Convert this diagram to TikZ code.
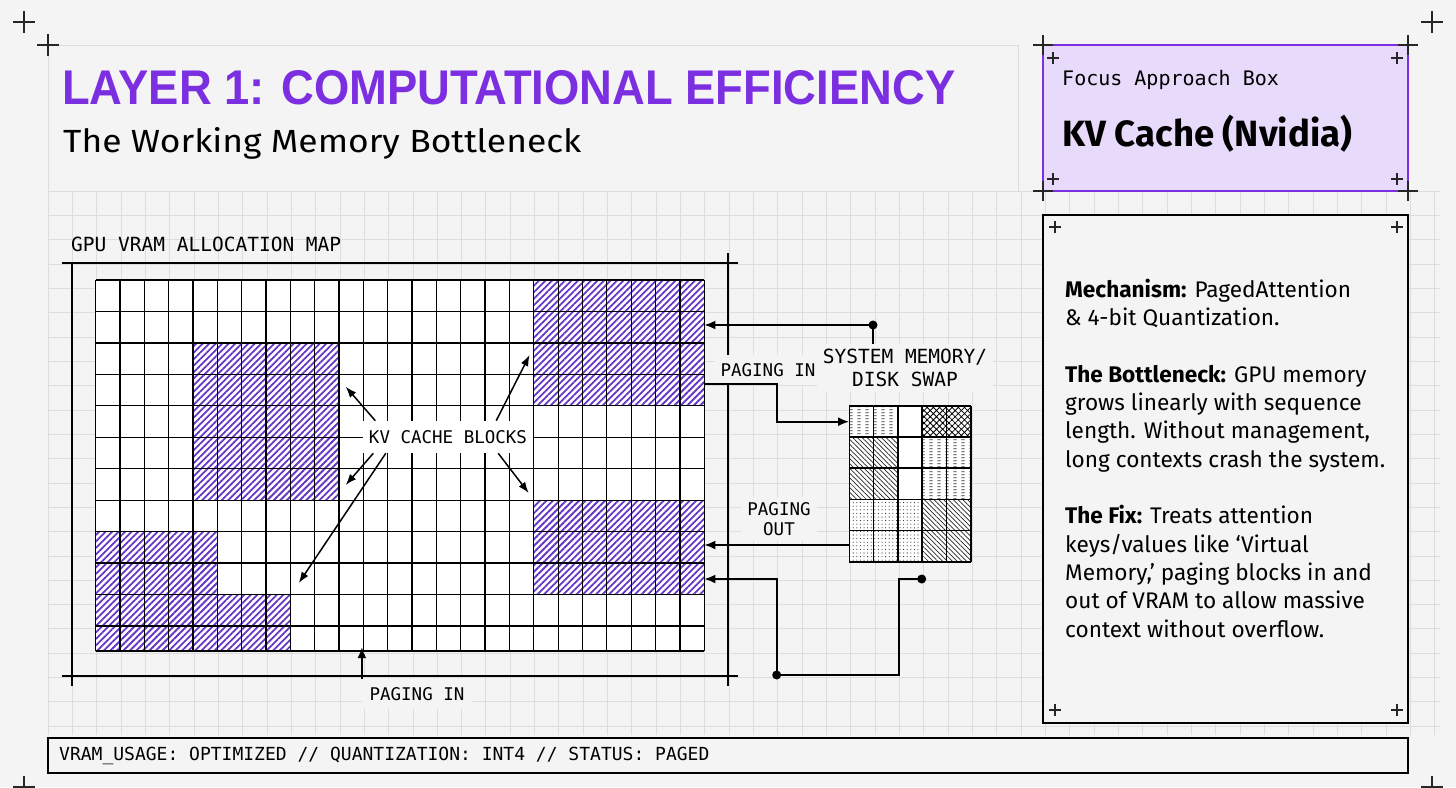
\documentclass[tikz,border=0pt]{standalone}
\usepackage{graphicx}
\usepackage{fontspec}
\setmainfont{Fira Sans}
\newfontfamily\plexmono{DejaVu Sans Mono}
\newfontfamily\headfont{Liberation Sans}
\usetikzlibrary{arrows.meta,patterns,patterns.meta}

\definecolor{paper}{HTML}{F4F4F4}
\definecolor{gridgray}{HTML}{DDDDDD}
\definecolor{vio}{HTML}{7B2FE0}
\definecolor{violight}{HTML}{E7DAFB}
\definecolor{hatchvio}{HTML}{6535C4}

\pgfdeclarepatternformonly{dashcols}{\pgfpointorigin}{\pgfpoint{8pt}{3.3pt}}{\pgfpoint{8pt}{3.3pt}}{%
  \pgfsetlinewidth{0.9pt}%
  \pgfpathmoveto{\pgfpoint{1.5pt}{1.6pt}}%
  \pgfpathlineto{\pgfpoint{5pt}{1.6pt}}%
  \pgfusepath{stroke}}

\tikzset{
  papergrid/.style={draw=gridgray, line width=0.9pt},
  markline/.style={draw=black!85, line width=1.1pt},
  frameline/.style={line width=2pt},
  cellline/.style={line width=1.3pt},
  swapline/.style={line width=1.6pt},
  kvcells/.style={pattern={Lines[angle=45,distance=4.6pt,line width=1.8pt]}, pattern color=hatchvio},
  swapdiag/.style={pattern={Lines[angle=-45,distance=3.4pt,line width=0.7pt]}, pattern color=black!85},
  swapdash/.style={pattern=dashcols, pattern color=black!80},
  swapdots/.style={pattern={Dots[distance=3.6pt,radius=0.55pt]}, pattern color=black!85},
  swapx/.style={pattern={Hatch[angle=45,distance=4.4pt,line width=0.8pt]}, pattern color=black},
  wire/.style={line width=1.8pt},
  tipwire/.style={wire, -{Latex[length=11pt,width=9pt]}},
  kvarrow/.style={line width=1.5pt, -{Latex[length=11pt,width=8pt]}},
  monolabel/.style={font=\plexmono\fontsize{17.5}{20}\selectfont, fill=paper, inner xsep=6pt, inner ysep=8pt},
  dot/.style={circle, fill=black, inner sep=0pt, minimum size=9pt},
  bodytext/.style={anchor=base west, inner sep=0pt, font=\fontsize{22.6}{28}\selectfont},
}

\newcommand{\cellw}{24.34}
\newcommand{\cellh}{31.45}
\newcommand{\swapw}{24.28}
\newcommand{\swaph}{31.14}
\newcommand{\regmark}[3]{\draw[markline] ({#1-#3},#2) -- ({#1+#3},#2) (#1,{#2-#3}) -- (#1,{#2+#3});}

\begin{document}
\begin{tikzpicture}[x=1pt,y=-1pt]
  \useasboundingbox (0,0) rectangle (1456,787);
  \fill[paper] (0,0) rectangle (1456,787);

  % squared paper
  \foreach \k in {0,...,57}
    \draw[papergrid] ({48+\k*24.33},191) -- ({48+\k*24.33},735);
  \foreach \k in {0,...,22}
    \draw[papergrid] (48,{191+\k*24.33}) -- (1440,{191+\k*24.33});
  \draw[papergrid] (48,45) rectangle (1018,191);

  % page marks
  \regmark{24}{22}{11}
  \regmark{48}{45}{11}
  \regmark{1432}{22}{11}
  \regmark{24}{787}{11}
  \regmark{1432}{787}{11}

  % heading
  \node[anchor=base west, inner sep=0pt, text=vio] (title) at (62,104)
    {\resizebox{893pt}{34pt}{\headfont\bfseries LAYER 1: COMPUTATIONAL EFFICIENCY}};
  \node[anchor=base west, inner sep=0pt] (subtitle) at (63,152)
    {\resizebox{518pt}{25pt}{The Working Memory Bottleneck}};

  % focus box
  \draw[fill=violight, draw=vio, line width=2.5pt] (1043,45) rectangle (1408,191);
  \regmark{1043}{45}{10}
  \regmark{1408}{45}{10}
  \regmark{1043}{191}{10}
  \regmark{1408}{191}{10}
  \regmark{1053}{58}{6}
  \regmark{1397}{58}{6}
  \regmark{1053}{179}{6}
  \regmark{1397}{179}{6}
  \node[anchor=base west, inner sep=0pt, font=\plexmono\fontsize{20}{24}\selectfont] (focuscap) at (1062,85) {Focus Approach Box};
  \node[anchor=base west, inner sep=0pt] (focusname) at (1062,146)
    {\resizebox{290pt}{!}{\fontsize{34}{40}\selectfont\bfseries KV Cache (Nvidia)}};

  % notes panel
  \draw[line width=2pt, fill=paper] (1043,215) rectangle (1408,723);
  \regmark{1055}{227}{6}
  \regmark{1397}{227}{6}
  \regmark{1055}{710}{6}
  \regmark{1397}{710}{6}
  \node[bodytext] (n1) at (1065,297) {\textbf{Mechanism:} PagedAttention};
  \node[bodytext] (n2) at (1065,325) {\& 4-bit Quantization.};
  \node[bodytext] (n3) at (1065,382) {\textbf{The Bottleneck:} GPU memory};
  \node[bodytext] (n4) at (1065,410) {grows linearly with sequence};
  \node[bodytext] (n5) at (1065,438) {length. Without management,};
  \node[bodytext] (n6) at (1065,467) {long contexts crash the system.};
  \node[bodytext] (n7) at (1065,523) {\textbf{The Fix:} Treats attention};
  \node[bodytext] (n8) at (1065,552) {keys/values like ‘Virtual};
  \node[bodytext] (n9) at (1065,580) {Memory,’ paging blocks in and};
  \node[bodytext] (n10) at (1065,608) {out of VRAM to allow massive};
  \node[bodytext] (n11) at (1065,637) {context without overflow.};

  % status bar
  \draw[line width=2.2pt, fill=paper] (48,738) rectangle (1408,773);
  \node[anchor=west, inner sep=0pt, font=\plexmono\fontsize{18}{20}\selectfont] (status) at (59,756)
    {VRAM\_USAGE: OPTIMIZED // QUANTIZATION: INT4 // STATUS: PAGED};

  % allocation map frame
  \node[anchor=base west, inner sep=0pt, font=\plexmono\fontsize{19.5}{22}\selectfont] (maplbl) at (71,251) {GPU VRAM ALLOCATION MAP};
  \draw[frameline] (62,263) -- (738,263);
  \draw[frameline] (62,676) -- (738,676);
  \draw[frameline] (72,263) -- (72,686);
  \draw[frameline] (728,253) -- (728,686);

  % vram cells
  \node[minimum width=608.5pt, minimum height=371pt, inner sep=0pt, fill=white] (vram) at (399.95,465.5) {};
  \fill[kvcells] ({95.7+18*\cellw},280) rectangle (704.2,{280+4*\cellh});
  \fill[kvcells] ({95.7+4*\cellw},{280+2*\cellh}) rectangle ({95.7+10*\cellw},{280+7*\cellh});
  \fill[kvcells] ({95.7+18*\cellw},{280+7*\cellh}) rectangle (704.2,{280+10*\cellh});
  \fill[kvcells] (95.7,{280+8*\cellh}) rectangle ({95.7+5*\cellw},{280+10*\cellh});
  \fill[kvcells] (95.7,{280+10*\cellh}) rectangle ({95.7+8*\cellw},651);
  \foreach \i in {0,...,25}
    \draw[cellline] ({95.7+\i*\cellw},280) -- ({95.7+\i*\cellw},651);
  \foreach \j in {0,...,11}
    \draw[cellline] (95.7,{280+\j*\cellh}) -- (704.2,{280+\j*\cellh});
  \draw[cellline] (95.7,651) -- (704.2,651);

  % swap cells
  \node[minimum width=121.4pt, minimum height=155.7pt, inner sep=0pt, fill=white] (swap) at (910,483.85) {};
  \foreach \c/\r in {0/0,1/0,3/1,4/1,3/2,4/2}
    \fill[swapdash] ({849.3+\c*\swapw},{406+\r*\swaph}) rectangle ++(\swapw,\swaph);
  \foreach \c/\r in {0/1,1/1,0/2,1/2,3/3,4/3,3/4,4/4}
    \fill[swapdiag] ({849.3+\c*\swapw},{406+\r*\swaph}) rectangle ++(\swapw,\swaph);
  \foreach \c/\r in {0/3,1/3,2/3,0/4,1/4,2/4}
    \fill[swapdots] ({849.3+\c*\swapw},{406+\r*\swaph}) rectangle ++(\swapw,\swaph);
  \foreach \c/\r in {3/0,4/0}
    \fill[swapx] ({849.3+\c*\swapw},{406+\r*\swaph}) rectangle ++(\swapw,\swaph);
  \foreach \i in {0,...,5}
    \draw[swapline] ({849.3+\i*\swapw},406) -- ({849.3+\i*\swapw},561.7);
  \foreach \j in {0,...,5}
    \draw[swapline] (849.3,{406+\j*\swaph}) -- (970.7,{406+\j*\swaph});

  % labels
  \node[monolabel, fill=white, inner ysep=9.5pt] (kvlbl) at (448,437) {KV CACHE BLOCKS};
  \node[monolabel] (pagein) at (768,370) {PAGING IN};
  \node[monolabel, font=\plexmono\fontsize{19.5}{22.6}\selectfont, align=center, inner ysep=5pt] (sysmem) at (905,368) {SYSTEM MEMORY/\\DISK SWAP};
  \node[monolabel, align=center, inner ysep=5pt] (pageout) at (779,519) {PAGING\\OUT};
  \node[monolabel, inner xsep=7.5pt] (pagein2) at (417,694) {PAGING IN};

  % kv arrows
  \coordinate (kt1) at (345.7,386.7);
  \coordinate (kt2) at (529.6,355);
  \coordinate (kt3) at (345.7,485);
  \coordinate (kt4) at (298.8,583);
  \coordinate (kt5) at (528.7,493);
  \draw[kvarrow] ([xshift=12.5pt]kvlbl.north west) -- (kt1);
  \draw[kvarrow] ([xshift=-37pt]kvlbl.north east) -- (kt2);
  \draw[kvarrow] ([xshift=10.5pt]kvlbl.south west) -- (kt3);
  \draw[kvarrow] ([xshift=23pt]kvlbl.south west) -- (kt4);
  \draw[kvarrow] ([xshift=-35pt]kvlbl.south east) -- (kt5);

  % paging wires
  \node[dot] (d1) at (873,325) {};
  \node[dot] (d2) at (921.7,579) {};
  \node[dot] (d3) at (776.7,675) {};
  \coordinate (k1) at (776.7,384);
  \coordinate (k2) at (776.7,421.7);
  \coordinate (k3) at (849,545);
  \draw[tipwire] (sysmem.north -| d1.center) -- (d1.center) -- (vram.east |- d1.center);
  \draw[tipwire] (vram.east |- k1) -- (k1) -- (k2) -- (swap.west |- k2);
  \draw[tipwire] (swap.west |- k3) -- (vram.east |- k3);
  \draw[tipwire] (d2.center) -- ++(-23,0) |- (d3.center) |- (vram.east |- d2.center);
  \draw[tipwire, shorten >=-4pt] (pagein2.north west) -- (pagein2.north west |- vram.south);
\end{tikzpicture}
\end{document}
